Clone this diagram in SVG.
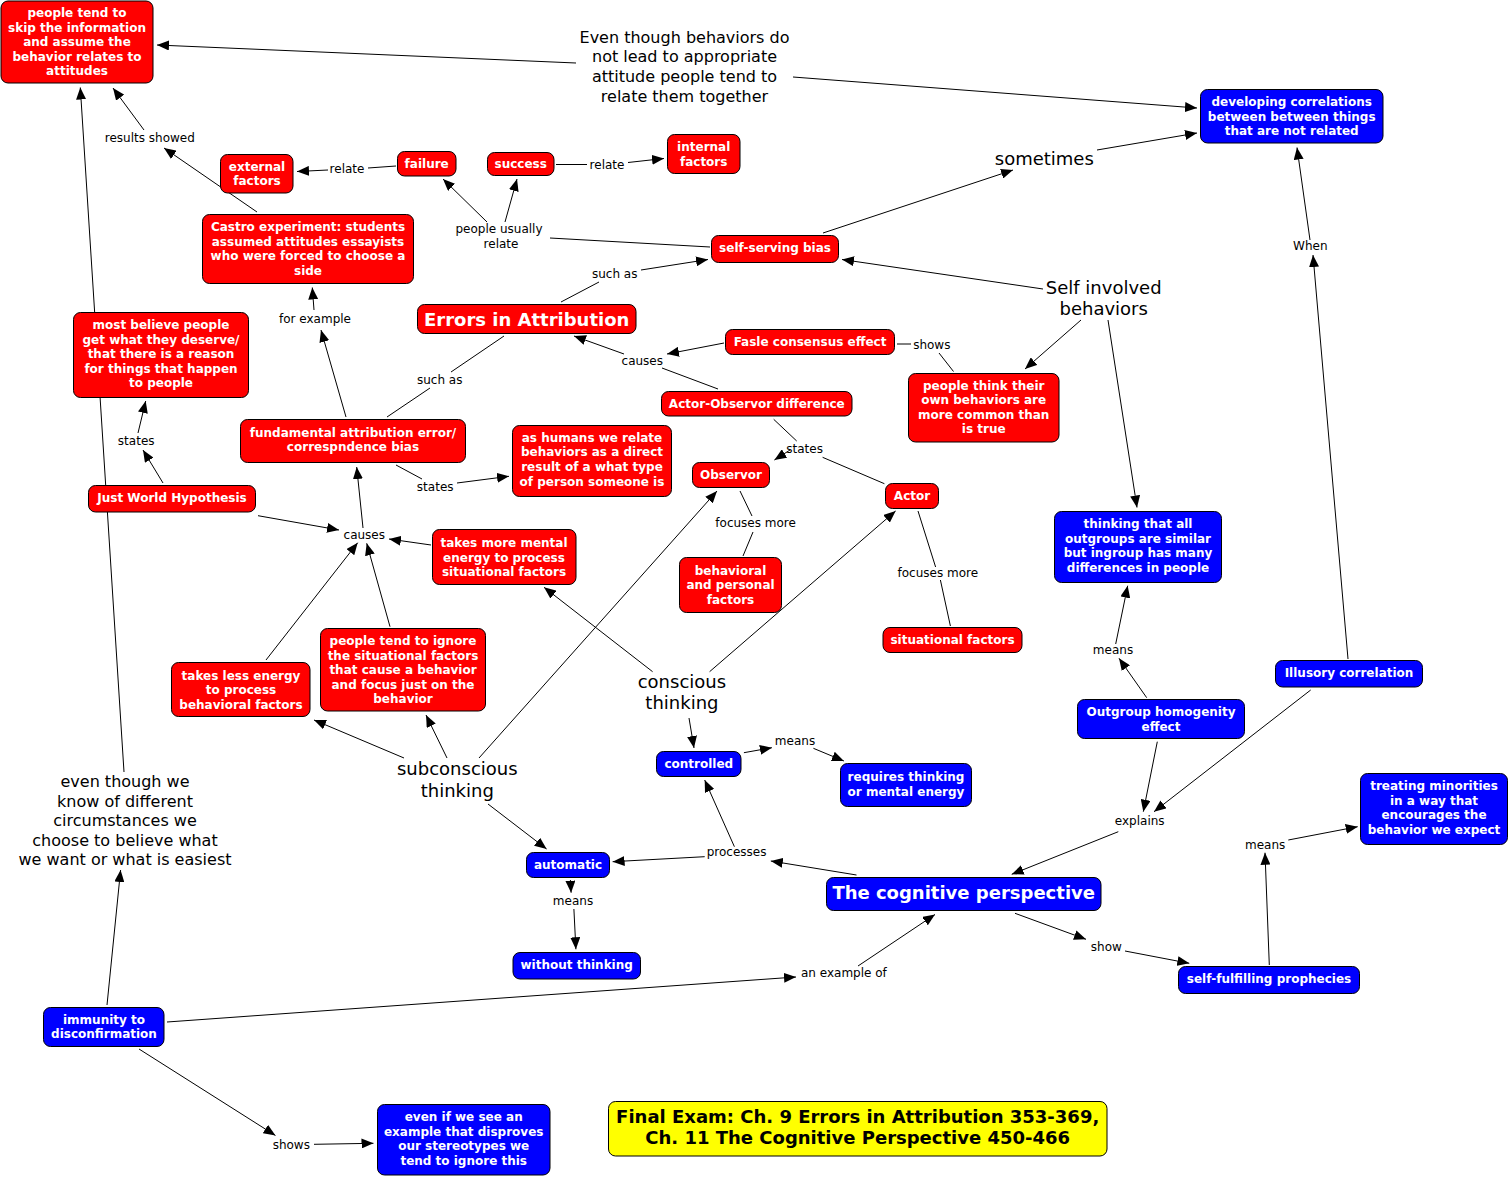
<svg xmlns="http://www.w3.org/2000/svg" width="1510" height="1179" viewBox="0 0 1510 1179">
<style>
.bg{fill:#fff}
.r{fill:#f00;stroke:#000;stroke-width:1}
.b{fill:#00f;stroke:#000;stroke-width:1}
.y{fill:#ff0;stroke:#000;stroke-width:1}
.t{font-family:"DejaVu Sans",Verdana,sans-serif;font-weight:bold;font-size:12px;fill:#fff;text-anchor:middle}
.big{font-size:18px}
.tk{fill:#000}
.l{font-family:"DejaVu Sans",Verdana,sans-serif;font-size:12px;fill:#000;text-anchor:middle}
.l16{font-size:16px}
.l18{font-size:18px}
.c{stroke:#000;stroke-width:1;fill:none}
.a{marker-end:url(#ah)}
</style>
<defs>
<marker id="ah" markerWidth="12" markerHeight="10" refX="12" refY="5" orient="auto" markerUnits="userSpaceOnUse">
<path d="M0,0 L12,5 L0,10 z" fill="#000"/>
</marker>
</defs>
<rect class="bg" x="0" y="0" width="1510" height="1179"/>

<g id="connectors">
<path class="c a" d="M576,63 L157,45"/>
<path class="c a" d="M793,77 L1197,108"/>
<path class="c a" d="M257,212 L164,148"/>
<path class="c a" d="M144,130 L113,88"/>
<path class="c" d="M396,166 L368,168"/>
<path class="c a" d="M328,170 L297,171.5"/>
<path class="c a" d="M487,222 L443,179"/>
<path class="c a" d="M505,222 L517,179"/>
<path class="c" d="M710,247 L550,238"/>
<path class="c" d="M556,164.5 L587,164.5"/>
<path class="c a" d="M628,162.5 L664,158.5"/>
<path class="c a" d="M823,233 L1013,170"/>
<path class="c a" d="M1097,150 L1197,133"/>
<path class="c a" d="M1043,289 L842,259.5"/>
<path class="c a" d="M1081,320 L1025,369"/>
<path class="c a" d="M1108,320 L1137,507.5"/>
<path class="c" d="M561,302 L599,282"/>
<path class="c a" d="M641,270 L708,259.5"/>
<path class="c" d="M387,417 L430,388"/>
<path class="c" d="M451,372 L504,336"/>
<path class="c a" d="M724,343 L667,354"/>
<path class="c" d="M718,389 L662,368"/>
<path class="c a" d="M624,354 L574,336"/>
<path class="c" d="M897,344 L911,344"/>
<path class="c" d="M939,353 L953.5,371.5"/>
<path class="c a" d="M1348,659 L1313,255"/>
<path class="c a" d="M1310,240 L1297,147.5"/>
<path class="c a" d="M346,417 L321,330"/>
<path class="c a" d="M314,310 L312.3,287.5"/>
<path class="c a" d="M163,483 L143,450"/>
<path class="c a" d="M138,433 L145.7,401"/>
<path class="c a" d="M124,772 L80.3,87.5"/>
<path class="c a" d="M107,1005 L120.6,870"/>
<path class="c a" d="M167,1022 L796,977"/>
<path class="c a" d="M858,966 L935,914.5"/>
<path class="c a" d="M139,1049 L275.5,1135.5"/>
<path class="c a" d="M314,1144.3 L373.5,1143.3"/>
<path class="c" d="M396,465 L422,479"/>
<path class="c a" d="M457,483 L509,476.3"/>
<path class="c a" d="M363,528 L356.7,467"/>
<path class="c a" d="M258,515.7 L339,530"/>
<path class="c a" d="M431,545 L389,539"/>
<path class="c a" d="M266,660 L357.7,542.7"/>
<path class="c a" d="M390,626.7 L366.7,543.3"/>
<path class="c a" d="M404,758 L314,720"/>
<path class="c a" d="M447,758 L426,715"/>
<path class="c a" d="M479,758 L717,491"/>
<path class="c a" d="M488,804 L546.6,849"/>
<path class="c a" d="M652.6,671.7 L544,587.3"/>
<path class="c a" d="M709.6,671.7 L895.6,511"/>
<path class="c a" d="M689,718 L694,748"/>
<path class="c" d="M773.7,419.3 L796.7,441"/>
<path class="c a" d="M790,450 L774.4,460"/>
<path class="c" d="M884.4,483.7 L822.6,457.3"/>
<path class="c" d="M740,491 L752,516"/>
<path class="c" d="M753,532 L743,556"/>
<path class="c" d="M918,511 L935.6,567"/>
<path class="c" d="M940.4,580 L950.4,626"/>
<path class="c a" d="M1146.7,697.7 L1119,658.3"/>
<path class="c a" d="M1115.7,644 L1127.7,585.7"/>
<path class="c a" d="M1157.3,741.7 L1143.3,811.7"/>
<path class="c a" d="M1310.7,690 L1154,811.7"/>
<path class="c a" d="M1118.3,831.7 L1011.7,874.3"/>
<path class="c a" d="M1015,913.3 L1086,939.3"/>
<path class="c a" d="M1125,951 L1189.3,963.3"/>
<path class="c a" d="M1269.3,965 L1265,852.7"/>
<path class="c a" d="M1288.3,840 L1357.7,826.7"/>
<path class="c a" d="M856.5,875 L770.8,861"/>
<path class="c a" d="M734.4,846.7 L704.7,780"/>
<path class="c a" d="M704.7,856.7 L612.6,861.7"/>
<path class="c a" d="M743.9,752.7 L771.9,747.7"/>
<path class="c a" d="M813.4,748.3 L843.9,761"/>
<path class="c a" d="M570.4,880 L571.1,892.7"/>
<path class="c a" d="M573.9,909 L575.9,949.3"/>
</g>

<g id="labels">
<text class="l l16" x="684.5"><tspan x="684.5" y="42.8">Even though behaviors do</tspan><tspan x="684.5" y="62.2">not lead to appropriate</tspan><tspan x="684.5" y="82.2">attitude people tend to</tspan><tspan x="684.5" y="101.5">relate them together</tspan></text>
<text class="l" x="149.8" y="141.7">results showed</text>
<text class="l" x="347" y="173">relate</text>
<text class="l" x="607" y="168.7">relate</text>
<text class="l"><tspan x="499" y="233">people usually</tspan><tspan x="501" y="247.7">relate</tspan></text>
<text class="l" x="614.7" y="278">such as</text>
<text class="l" x="439.7" y="384">such as</text>
<text class="l" x="642.3" y="364.7">causes</text>
<text class="l" x="315" y="323">for example</text>
<text class="l" x="136.2" y="445.3">states</text>
<text class="l" x="435.2" y="491.3">states</text>
<text class="l" x="364.3" y="539">causes</text>
<text class="l" x="804.6" y="453.3">states</text>
<text class="l" x="755.6" y="526.7">focuses more</text>
<text class="l" x="937.8" y="576.7">focuses more</text>
<text class="l" x="931.8" y="349">shows</text>
<text class="l" x="1310.3" y="249.7">When</text>
<text class="l l18" x="1044.3" y="165">sometimes</text>
<text class="l l18"><tspan x="1103.7" y="294.3">Self involved</tspan><tspan x="1103.7" y="315.3">behaviors</tspan></text>
<text class="l" x="1113" y="653.7">means</text>
<text class="l" x="1139.7" y="825">explains</text>
<text class="l" x="1265.2" y="848.7">means</text>
<text class="l" x="1106.3" y="950.7">show</text>
<text class="l" x="795" y="745">means</text>
<text class="l" x="736.6" y="856">processes</text>
<text class="l" x="573" y="905">means</text>
<text class="l" x="843.9" y="977.3">an example of</text>
<text class="l" x="291.3" y="1149">shows</text>
<text class="l l18"><tspan x="681.9" y="688.3">conscious</tspan><tspan x="681.9" y="709.3">thinking</tspan></text>
<text class="l l18"><tspan x="457.3" y="775">subconscious</tspan><tspan x="457.3" y="796.7">thinking</tspan></text>
<text class="l l16"><tspan x="125" y="787.2">even though we</tspan><tspan x="125" y="806.5">know of different</tspan><tspan x="125" y="825.8">circumstances we</tspan><tspan x="125" y="845.5">choose to believe what</tspan><tspan x="125" y="865.2">we want or what is easiest</tspan></text>
</g>

<g id="n-skip"><rect class="r" x="1" y="1" width="152" height="82" rx="7"/><text class="t"><tspan x="77" y="17">people tend to</tspan><tspan x="77" y="31.5">skip the information</tspan><tspan x="77" y="46">and assume the</tspan><tspan x="77" y="60.5">behavior relates to</tspan><tspan x="77" y="75">attitudes</tspan></text></g>
<g id="n-external"><rect class="r" x="220.5" y="154.5" width="72.5" height="38.5" rx="7"/><text class="t"><tspan x="257" y="170.7">external</tspan><tspan x="257" y="185.3">factors</tspan></text></g>
<g id="n-failure"><rect class="r" x="397.5" y="151.5" width="58.5" height="24.5" rx="7"/><text class="t" x="426.7" y="167.7">failure</text></g>
<g id="n-success"><rect class="r" x="487.5" y="152.5" width="66.5" height="23" rx="7"/><text class="t" x="520.7" y="167.7">success</text></g>
<g id="n-internal"><rect class="r" x="667.5" y="134.5" width="72.5" height="39" rx="7"/><text class="t"><tspan x="703.7" y="150.7">internal</tspan><tspan x="703.7" y="165.7">factors</tspan></text></g>
<g id="n-castro"><rect class="r" x="202.5" y="214.5" width="211" height="69" rx="7"/><text class="t"><tspan x="308" y="231">Castro experiment: students</tspan><tspan x="308" y="245.7">assumed attitudes essayists</tspan><tspan x="308" y="260">who were forced to choose a</tspan><tspan x="308" y="274.7">side</tspan></text></g>
<g id="n-selfserving"><rect class="r" x="711.5" y="235.5" width="127" height="27" rx="7"/><text class="t" x="775" y="251.7">self-serving bias</text></g>
<g id="n-errors"><rect class="r" x="417.5" y="304.5" width="218.5" height="29" rx="7"/><text class="t big" x="526.7" y="325.5">Errors in Attribution</text></g>
<g id="n-fasle"><rect class="r" x="725.5" y="329.5" width="169" height="25" rx="7"/><text class="t" x="810" y="345.7">Fasle consensus effect</text></g>
<g id="n-actorobs"><rect class="r" x="661.5" y="391.5" width="190.5" height="24.5" rx="7"/><text class="t" x="756.8" y="407.7">Actor-Observor difference</text></g>
<g id="n-peoplethink"><rect class="r" x="908.5" y="373.5" width="150.5" height="68.5" rx="7"/><text class="t"><tspan x="983.7" y="389.7">people think their</tspan><tspan x="983.7" y="404.3">own behaviors are</tspan><tspan x="983.7" y="419">more common than</tspan><tspan x="983.7" y="433.3">is true</tspan></text></g>
<g id="n-fundamental"><rect class="r" x="240.5" y="419.5" width="225" height="43" rx="7"/><text class="t"><tspan x="353" y="436.7">fundamental attribution error/</tspan><tspan x="353" y="451.3">correspndence bias</tspan></text></g>
<g id="n-mostbelieve"><rect class="r" x="73.5" y="312.5" width="175" height="85" rx="7"/><text class="t"><tspan x="161" y="329">most believe people</tspan><tspan x="161" y="343.7">get what they deserve/</tspan><tspan x="161" y="358">that there is a reason</tspan><tspan x="161" y="372.7">for things that happen</tspan><tspan x="161" y="387.3">to people</tspan></text></g>
<g id="n-justworld"><rect class="r" x="88.5" y="485.5" width="167" height="26.5" rx="7"/><text class="t" x="172" y="502">Just World Hypothesis</text></g>
<g id="n-ashumans"><rect class="r" x="512.5" y="425.5" width="159" height="71" rx="7"/><text class="t"><tspan x="592" y="442">as humans we relate</tspan><tspan x="592" y="456.3">behaviors as a direct</tspan><tspan x="592" y="471">result of a what type</tspan><tspan x="592" y="485.7">of person someone is</tspan></text></g>
<g id="n-observor"><rect class="r" x="692.5" y="462.5" width="77" height="25" rx="7"/><text class="t" x="731" y="479">Observor</text></g>
<g id="n-actor"><rect class="r" x="885.5" y="483.5" width="53" height="25" rx="7"/><text class="t" x="912" y="500.3">Actor</text></g>
<g id="n-behavioral"><rect class="r" x="679.5" y="557.5" width="102" height="55" rx="7"/><text class="t"><tspan x="730.5" y="574.7">behavioral</tspan><tspan x="730.5" y="589.3">and personal</tspan><tspan x="730.5" y="604.3">factors</tspan></text></g>
<g id="n-situational"><rect class="r" x="883" y="627.5" width="139" height="25" rx="7"/><text class="t" x="952.5" y="644">situational factors</text></g>
<g id="n-takesmore"><rect class="r" x="432.5" y="529.5" width="143.5" height="55" rx="7"/><text class="t"><tspan x="504" y="546.5">takes more mental</tspan><tspan x="504" y="561.5">energy to process</tspan><tspan x="504" y="576">situational factors</tspan></text></g>
<g id="n-takesless"><rect class="r" x="171.5" y="662.5" width="138.5" height="54" rx="7"/><text class="t"><tspan x="241" y="680">takes less energy</tspan><tspan x="241" y="694.3">to process</tspan><tspan x="241" y="709">behavioral factors</tspan></text></g>
<g id="n-ignore"><rect class="r" x="320.5" y="628.5" width="165" height="82.5" rx="7"/><text class="t"><tspan x="403" y="645">people tend to ignore</tspan><tspan x="403" y="659.7">the situational factors</tspan><tspan x="403" y="674">that cause a behavior</tspan><tspan x="403" y="688.7">and focus just on the</tspan><tspan x="403" y="703.3">behavior</tspan></text></g>

<g id="n-developing"><rect class="b" x="1200.5" y="89.5" width="182.5" height="53.5" rx="7"/><text class="t"><tspan x="1291.7" y="106">developing correlations</tspan><tspan x="1291.7" y="120.7">between between things</tspan><tspan x="1291.7" y="135">that are not related</tspan></text></g>
<g id="n-thinkingall"><rect class="b" x="1054.5" y="511.5" width="167" height="71" rx="7"/><text class="t"><tspan x="1138" y="528">thinking that all</tspan><tspan x="1138" y="542.7">outgroups are similar</tspan><tspan x="1138" y="557">but ingroup has many</tspan><tspan x="1138" y="571.7">differences in people</tspan></text></g>
<g id="n-illusory"><rect class="b" x="1275.5" y="660.5" width="147" height="26.5" rx="7"/><text class="t" x="1349" y="677">Illusory correlation</text></g>
<g id="n-outgroup"><rect class="b" x="1077.5" y="699.5" width="167" height="39" rx="7"/><text class="t"><tspan x="1161" y="716">Outgroup homogenity</tspan><tspan x="1161" y="730.7">effect</tspan></text></g>
<g id="n-treating"><rect class="b" x="1360.5" y="773.5" width="147" height="71" rx="7"/><text class="t"><tspan x="1434" y="790">treating minorities</tspan><tspan x="1434" y="804.7">in a way that</tspan><tspan x="1434" y="819">encourages the</tspan><tspan x="1434" y="833.7">behavior we expect</tspan></text></g>
<g id="n-selffulfilling"><rect class="b" x="1178.5" y="966.5" width="181" height="27" rx="7"/><text class="t" x="1269" y="983">self-fulfilling prophecies</text></g>
<g id="n-cognitive"><rect class="b" x="826.5" y="877.5" width="274.5" height="33" rx="7"/><text class="t big" x="963.7" y="899">The cognitive perspective</text></g>
<g id="n-controlled"><rect class="b" x="656.5" y="751.5" width="84.5" height="25" rx="7"/><text class="t" x="698.8" y="767.7">controlled</text></g>
<g id="n-requires"><rect class="b" x="840.5" y="763.5" width="131" height="43" rx="7"/><text class="t"><tspan x="906" y="781">requires thinking</tspan><tspan x="906" y="795.7">or mental energy</tspan></text></g>
<g id="n-automatic"><rect class="b" x="526.5" y="852.5" width="83" height="25" rx="7"/><text class="t" x="568" y="869">automatic</text></g>
<g id="n-without"><rect class="b" x="513" y="952.5" width="127.5" height="26.5" rx="7"/><text class="t" x="576.7" y="969">without thinking</text></g>
<g id="n-immunity"><rect class="b" x="43.5" y="1007.5" width="120.5" height="39" rx="7"/><text class="t"><tspan x="104" y="1024">immunity to</tspan><tspan x="104" y="1038.3">disconfirmation</tspan></text></g>
<g id="n-evenif"><rect class="b" x="377.5" y="1104.5" width="172.5" height="70.5" rx="7"/><text class="t"><tspan x="463.7" y="1121">even if we see an</tspan><tspan x="463.7" y="1135.7">example that disproves</tspan><tspan x="463.7" y="1150">our stereotypes we</tspan><tspan x="463.7" y="1164.7">tend to ignore this</tspan></text></g>
<g id="n-title"><rect class="y" x="608.5" y="1101.5" width="498.5" height="54.5" rx="7"/><text class="t big tk"><tspan x="857.7" y="1122.7">Final Exam: Ch. 9 Errors in Attribution 353-369,</tspan><tspan x="857.7" y="1143.7">Ch. 11 The Cognitive Perspective 450-466</tspan></text></g>
</svg>
